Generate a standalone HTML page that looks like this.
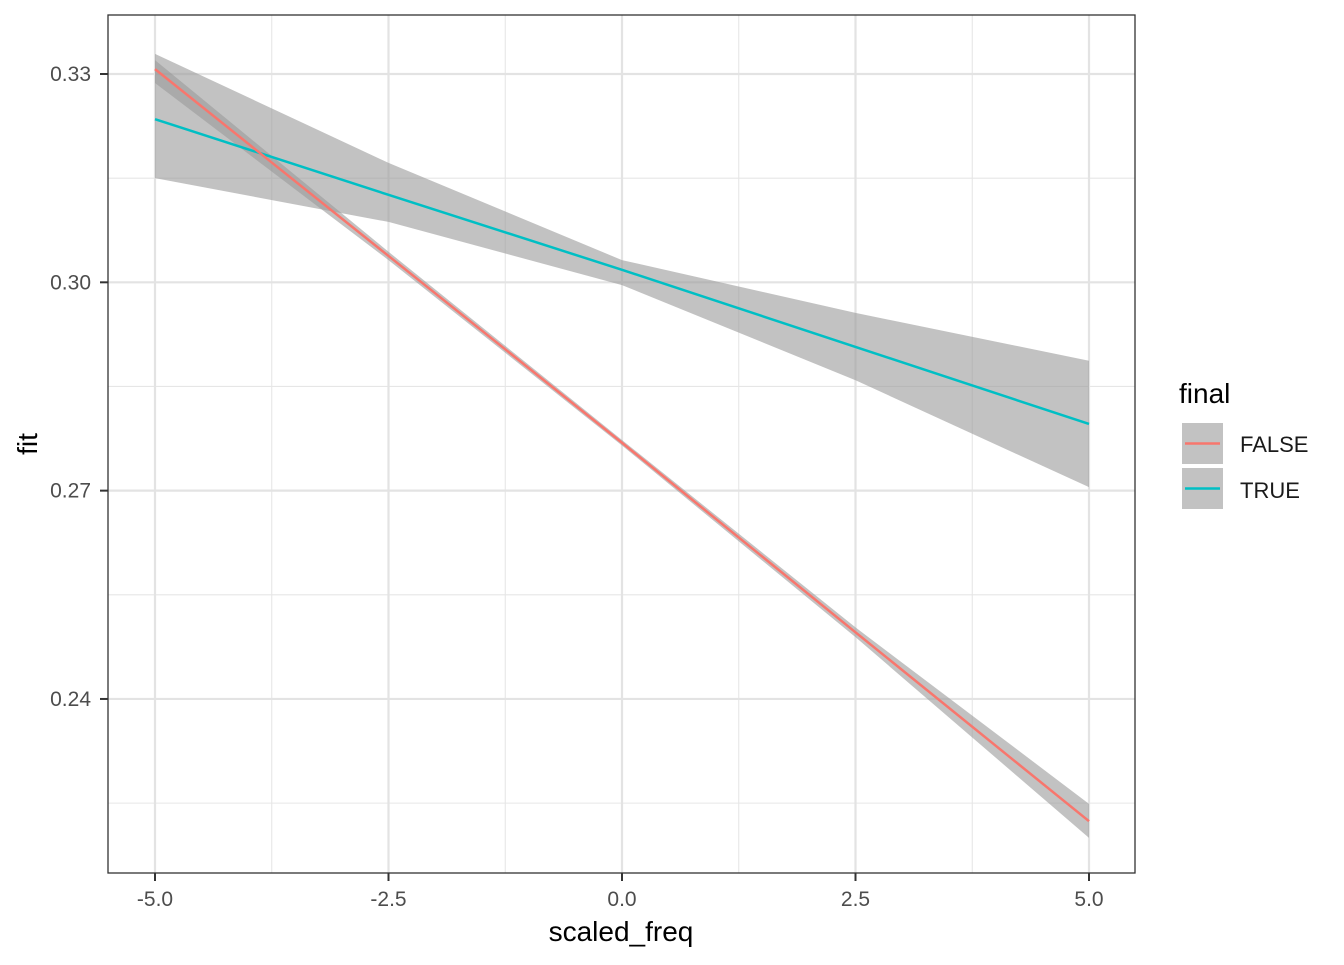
<!DOCTYPE html>
<html><head><meta charset="utf-8"><style>
body{margin:0;background:#fff;}
text{font-family:"Liberation Sans",Arial,sans-serif;}
</style></head><body>
<svg id="chart" width="1344" height="960" xmlns="http://www.w3.org/2000/svg">
<rect x="0" y="0" width="1344" height="960" fill="#fff"/>
<g id="grid"></g>
<g id="bands"></g>
<g id="lines"></g>
<rect x="108" y="15" width="1027" height="858" fill="none" stroke="#333" stroke-width="1.3"/>
<g id="axes"></g>
<text x="621" y="941" font-size="28" text-anchor="middle" fill="#000">scaled_freq</text>
<text transform="translate(37,444) rotate(-90)" font-size="28" text-anchor="middle" fill="#000">fit</text>
<g>
<text x="1179" y="403" font-size="28" fill="#000">final</text>
<g>
<rect x="1182" y="423" width="41" height="41" fill="#999" fill-opacity="0.6"/>
<line x1="1185" y1="443.5" x2="1220" y2="443.5" stroke="#F8766D" stroke-width="2.5"/>
<text x="1240" y="452" font-size="22" fill="#1a1a1a">FALSE</text></g>
<g>
<rect x="1182" y="468" width="41" height="41" fill="#999" fill-opacity="0.6"/>
<line x1="1185" y1="488.5" x2="1220" y2="488.5" stroke="#00BFC4" stroke-width="2.5"/>
<text x="1240" y="498" font-size="22" fill="#1a1a1a">TRUE</text></g>
</g>
</svg>
<script>
const xs = [-5, -2.5, 0, 2.5, 5];
const falseFit = [0.3307, 0.3038, 0.2769, 0.2496, 0.2224];
const falseLo = [0.3287, 0.3032, 0.2765, 0.2489, 0.2200];
const falseHi = [0.3320, 0.3044, 0.2773, 0.2503, 0.2249];
const trueFit = [0.3235, 0.3126, 0.3018, 0.2907, 0.2796];
const trueLo = [0.3150, 0.3087, 0.2996, 0.2859, 0.2705];
const trueHi = [0.3329, 0.3172, 0.3032, 0.2956, 0.2887];
const xTicks = [-5, -2.5, 0, 2.5, 5];
const xTickLabels = ["-5.0", "-2.5", "0.0", "2.5", "5.0"];
const yTicks = [0.24, 0.27, 0.30, 0.33];
const yTickLabels = ["0.24", "0.27", "0.30", "0.33"];
const NS="http://www.w3.org/2000/svg";
const X=v=>622+v*93.4;
const Y=v=>74+(0.33-v)*6944;
function mk(p,t,a){const e=document.createElementNS(NS,t);for(const k in a)e.setAttribute(k,a[k]);p.appendChild(e);return e;}
const grid=document.getElementById('grid'),axes=document.getElementById('axes');
for(let i=0;i<xTicks.length-1;i++){const m=(xTicks[i]+xTicks[i+1])/2;const l=mk(grid,'line',{x1:X(m),x2:X(m),y1:15,y2:873,stroke:'#e6e6e6','stroke-width':1.1});}
const yMinor=[0.225,0.255,0.285,0.315];
yMinor.forEach(v=>{const l=mk(grid,'line',{x1:108,x2:1135,y1:Y(v),y2:Y(v),stroke:'#e6e6e6','stroke-width':1.1});});
xTicks.forEach((v,i)=>{const l=mk(grid,'line',{x1:X(v),x2:X(v),y1:15,y2:873,stroke:'#e3e3e3','stroke-width':2.2});
const t=mk(axes,'line',{x1:X(v),x2:X(v),y1:873,y2:881,stroke:'#333','stroke-width':2});
const tx=mk(axes,'text',{x:X(v),y:906,'font-size':21,'text-anchor':'middle',fill:'#4d4d4d'});tx.textContent=xTickLabels[i];});
yTicks.forEach((v,i)=>{const l=mk(grid,'line',{x1:108,x2:1135,y1:Y(v),y2:Y(v),stroke:'#e3e3e3','stroke-width':2.2});
const t=mk(axes,'line',{x1:100,x2:108,y1:Y(v),y2:Y(v),stroke:'#333','stroke-width':2});
const tx=mk(axes,'text',{x:91,y:Y(v)+7,'font-size':21,'text-anchor':'end',fill:'#4d4d4d'});tx.textContent=yTickLabels[i];});
const bands=document.getElementById('bands'),lines=document.getElementById('lines');
function band(lo,hi,name){let d='M'+xs.map((x,i)=>X(x)+','+Y(hi[i])).join('L');d+='L'+xs.slice().reverse().map((x,j)=>{const i=xs.length-1-j;return X(x)+','+Y(lo[i]);}).join('L')+'Z';
const p=mk(bands,'path',{d:d,fill:'#999999','fill-opacity':0.6});}
function line(f,c,name){const p=mk(lines,'path',{d:'M'+xs.map((x,i)=>X(x)+','+Y(f[i])).join('L'),fill:'none',stroke:c,'stroke-width':2.5});}
band(trueLo,trueHi,'band-true');band(falseLo,falseHi,'band-false');
line(trueFit,'#00BFC4','line-true');line(falseFit,'#F8766D','line-false');
</script>
</body></html>
